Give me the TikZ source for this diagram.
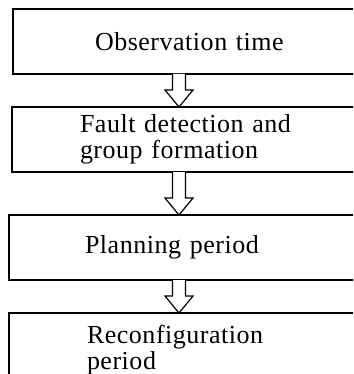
\documentclass[tikz,border=0pt]{standalone}
\usepackage{fontspec}
\setmainfont[LetterSpace=2]{Liberation Serif}
\usetikzlibrary{calc}

\begin{document}
\begin{tikzpicture}[x=1pt, y=-1pt,
    every node/.style={font=\fontsize{26}{26}\selectfont},
    stage/.style={draw, line width=1.2pt, anchor=north west, align=left,
        text width=330pt, minimum height=65pt, outer sep=0pt},
    hollowarrow/.style={line width=1.2pt, fill=white, to path={
        let \p1=(\tikztostart), \p2=(\tikztotarget) in
        (\x1-6.5pt,\y1) -- (\x1-6.5pt,\y2+17pt) -- (\x1-14pt,\y2+17pt) -- (\x2,\y2)
        -- (\x1+14pt,\y2+17pt) -- (\x1+6.5pt,\y2+17pt) -- (\x1+6.5pt,\y1)}}]
    \useasboundingbox (0,0) rectangle (353,374);
    \clip (0,0) rectangle (353,374);

    % Stages
    \node[stage, inner xsep=82pt] (obs) at (13,9) {Observation time};
    \node[stage, inner xsep=68pt] (fault) at (12,107) {Fault detection and\\group formation};
    \node[stage, inner xsep=76pt] (plan) at (9,215) {Planning period};
    \node[stage, inner xsep=78pt, minimum height=75pt] (reconf) at (9,313) {Reconfiguration\\period};

    % Arrows
    \coordinate (ax) at (179,0);
    \foreach \a/\b in {obs/fault, fault/plan, plan/reconf} {
        \draw[hollowarrow] (\a.south -| ax) to (\b.north -| ax);
    }
\end{tikzpicture}
\end{document}
